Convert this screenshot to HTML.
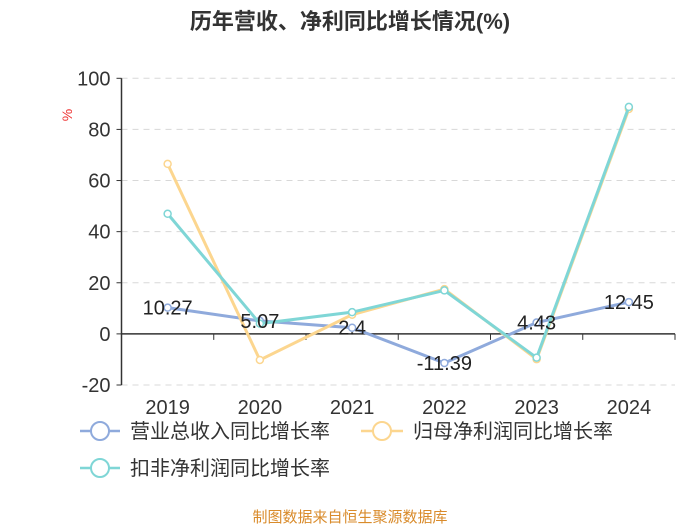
<!DOCTYPE html>
<html><head><meta charset="utf-8"><style>
body{margin:0;background:#fff;}
svg text{font-family:"Liberation Sans","Noto Sans CJK SC",sans-serif;}
</style></head><body>
<svg width="700" height="525" viewBox="0 0 700 525" id="c">
<text x="350" y="29" text-anchor="middle" font-size="22" font-weight="bold" fill="#333">历年营收、净利同比增长情况(%)</text>
<text x="72" y="115" font-size="14" fill="#e33" transform="rotate(-90 72 115)" text-anchor="middle">%</text>
<g id="grid"></g><g id="series"></g>
<g>
<g><line x1="80" y1="431" x2="120" y2="431" stroke="#8faadc" stroke-width="2.5"/><circle cx="100" cy="431" r="9" fill="#fff" stroke="#8faadc" stroke-width="2"/><text x="130" y="438" font-size="20" fill="#333">营业总收入同比增长率</text></g>
<g><line x1="361" y1="431" x2="403" y2="431" stroke="#fcd68f" stroke-width="2.5"/><circle cx="382" cy="431" r="9" fill="#fff" stroke="#fcd68f" stroke-width="2"/><text x="413" y="438" font-size="20" fill="#333">归母净利润同比增长率</text></g>
<g><line x1="80" y1="468" x2="120" y2="468" stroke="#7fd6d6" stroke-width="2.5"/><circle cx="100" cy="468" r="9" fill="#fff" stroke="#7fd6d6" stroke-width="2"/><text x="130" y="475" font-size="20" fill="#333">扣非净利润同比增长率</text></g>
</g>
<text x="350" y="522" text-anchor="middle" font-size="15" fill="#d98b2b">制图数据来自恒生聚源数据库</text>
</svg>
<script>
const categories=["2019","2020","2021","2022","2023","2024"];
const revenue=[10.27,5.07,2.4,-11.39,4.43,12.45];
const netProfit=[66.5,-10.2,7.5,17.5,-9.9,88];
const deducted=[47,4,8.5,17,-9.3,88.8];
const yTicks=[100,80,60,40,20,0,-20];
const NS="http://www.w3.org/2000/svg";
const L=121.5,R=675,T=78.3,B=385,yMin=-20,yMax=100;
const band=(R-L)/categories.length;
const xs=i=>L+band*(i+0.5);
const ys=v=>B-(v-yMin)/(yMax-yMin)*(B-T);
function mk(tag,a,p){const e=document.createElementNS(NS,tag);for(const k in a)e.setAttribute(k,a[k]);p.appendChild(e);return e;}
const g=document.getElementById('grid');
yTicks.forEach(t=>{
 const y=ys(t);
 if(t!==0){const l=mk('line',{x1:L,x2:R,y1:y,y2:y,stroke:'#d8d8d8','stroke-dasharray':'6,5'},g);
 
 }
 mk('line',{x1:L-5,x2:L,y1:y,y2:y,stroke:'#333'},g);
 const tx=mk('text',{x:L-11,y:y+7,'text-anchor':'end','font-size':'20',fill:'#333'},g);tx.textContent=t;
 
 
});
const ya=mk('line',{x1:L,x2:L,y1:T,y2:B,stroke:'#333','stroke-width':1.5},g);


const xa=mk('line',{x1:L,x2:R,y1:ys(0),y2:ys(0),stroke:'#333','stroke-width':1.5},g);


categories.forEach((c,i)=>{
 mk('line',{x1:L+band*(i+1),x2:L+band*(i+1),y1:ys(0),y2:ys(0)+6,stroke:'#333'},g);
 const tx=mk('text',{x:xs(i),y:414,'text-anchor':'middle','font-size':'20',fill:'#333'},g);tx.textContent=c;
 
 
});
const s=document.getElementById('series');
function line(data,color,name){
 const gg=mk('g',{},s);
 
 
 mk('polyline',{points:data.map((v,i)=>xs(i)+','+ys(v)).join(' '),fill:'none',stroke:color,'stroke-width':3},gg);
 data.forEach((v,i)=>{const c=mk('circle',{cx:xs(i),cy:ys(v),r:3.5,fill:'#fff',stroke:color,'stroke-width':1.5},gg);
 
 });
}
line(revenue,'#8faadc','revenue-line');
line(netProfit,'#fcd68f','net-profit-line');
line(deducted,'#7fd6d6','deducted-profit-line');
revenue.forEach((v,i)=>{
 const tx=mk('text',{x:xs(i),y:ys(v)+7,'text-anchor':'middle','font-size':'20',fill:'#222'},s);tx.textContent=v;
 
 
});
</script>
</body></html>
